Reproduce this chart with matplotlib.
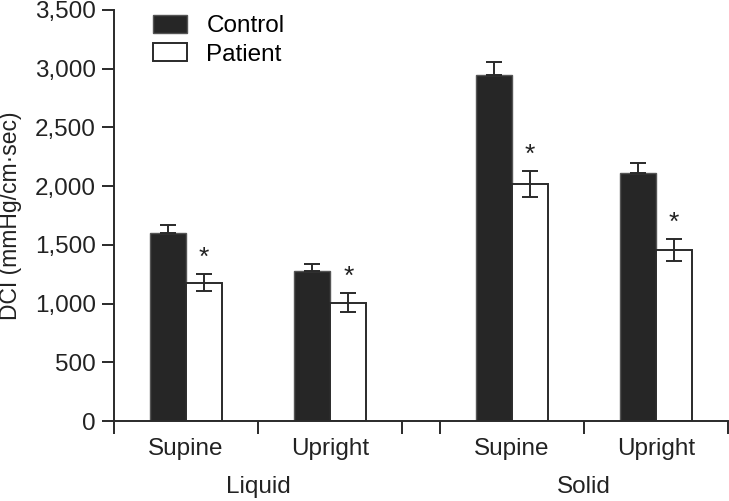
import numpy as np
import matplotlib.pyplot as plt
from matplotlib.ticker import FuncFormatter
from matplotlib.transforms import blended_transform_factory

plt.rcParams['font.family'] = ['Liberation Sans', 'DejaVu Sans']

# datos
groups = ['Liquid', 'Solid']
positions = ['Supine', 'Upright', 'Supine', 'Upright']
control = [1605, 1275, 2948, 2111]
control_err = [60, 65, 105, 90]
patient = [1179, 1009, 2021, 1454]
patient_err = [72, 80, 110, 95]
yticks = [0, 500, 1000, 1500, 2000, 2500, 3000, 3500]

gap = 37 / 144.0
centers = np.array([0.5, 1.5, 2.5 + gap, 3.5 + gap])
w = 0.25
edges = [0, 1, 2, 2 + gap, 3 + gap, 4 + gap]
fs = 17.5
tc = '#222222'

fig = plt.figure(figsize=(7.29, 5.01), dpi=100)
ax = fig.add_axes([114 / 729, 80 / 501, 614 / 729, 411 / 501])

ax.bar(centers - w / 2, control, w, color='#262626', edgecolor='#555555', lw=1, label='Control', zorder=2)
ax.bar(centers + w / 2, patient, w, color='white', edgecolor='#2a2a2a', lw=1.4, label='Patient', zorder=2)

ax.errorbar(centers - w / 2, control, yerr=[np.zeros(4), control_err], fmt='none',
            ecolor='#2a2a2a', elinewidth=1.4, capsize=6, capthick=1.4, zorder=3)
ax.errorbar(centers + w / 2, patient, yerr=patient_err, fmt='none',
            ecolor='#2a2a2a', elinewidth=1.4, capsize=6, capthick=1.4, zorder=3)

# asteriscos de significancia
for x, y, e in zip(centers + w / 2, patient, patient_err):
    ax.annotate('*', (x, y + e), xytext=(0, 3), textcoords='offset points',
                ha='center', va='bottom', fontsize=19, color=tc)

ax.set_xlim(0, 4 + gap)
ax.set_ylim(0, 3500)
ax.set_yticks(yticks)
ax.yaxis.set_major_formatter(FuncFormatter(lambda v, p: '{:,.0f}'.format(v)))
ax.set_xticks(edges)
ax.set_xticklabels([])
ax.set_xticks(centers, minor=True)
ax.set_xticklabels(positions, minor=True)
ax.tick_params(axis='x', which='minor', length=0, pad=12, labelsize=fs, labelcolor=tc)
ax.tick_params(axis='both', which='major', length=9, width=1.4, color='#2a2a2a', labelsize=fs,
               labelcolor=tc, direction='out', pad=4)

for s in ['top', 'right']:
    ax.spines[s].set_visible(False)
for s in ['left', 'bottom']:
    ax.spines[s].set_linewidth(1.4)
    ax.spines[s].set_color('#2a2a2a')

ax.set_ylabel('DCI (mmHg/cm\u00b7sec)', fontsize=fs - 1, color=tc)
ax.yaxis.set_label_coords(-92 / 614, 0.5)

trans = blended_transform_factory(ax.transData, fig.transFigure)
ax.text(1.0, 14 / 501, groups[0], transform=trans, ha='center', va='center', fontsize=fs, color=tc)
ax.text(3.0 + gap, 14 / 501, groups[1], transform=trans, ha='center', va='center', fontsize=fs, color=tc)

ax.legend(loc='upper left', bbox_to_anchor=(39 / 614, 0.988), frameon=False, fontsize=fs,
          borderpad=0, borderaxespad=0, handlelength=1.4, handleheight=0.75,
          handletextpad=0.8, labelspacing=0.25)

fig.savefig('out.png', dpi=100)
